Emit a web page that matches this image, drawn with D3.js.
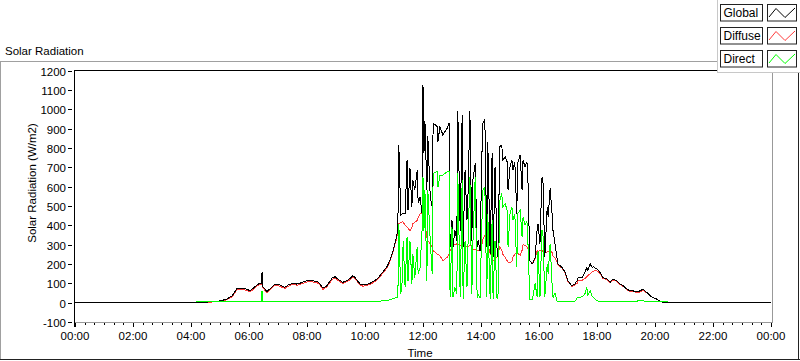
<!DOCTYPE html>
<html><head><meta charset="utf-8">
<script src="https://cdn.jsdelivr.net/npm/d3@7"></script>
<style>
body{margin:0;background:#fff;}
svg{display:block;font-family:"Liberation Sans",Arial,sans-serif;}
</style>
</head><body>
<svg id="c" width="800" height="361"></svg>
<script>
// ---- data (time in minutes since 00:00, radiation in W/m2; null = no reading) ----
const timeMin = [0,240,250,283,300,314,325,331,335,346,356,362,372,379,385,387,389,397,403,414,424,434,441,451,459,466,476,486,492,501,507,513,521,532,538,544,554,565,575,579,590,596,610,625,631,646,652,658,666,668,
670,674,677,679,683,687,689,693,697,699,703,708,710,714,718,720,722,724,728,730,735,739,741,749,751,755,761,770,774,776,780,782,786,790,792,797,801,803,807,811,813,817,821,823,828,832,834,838,842,844,848,852,854,859,863,865,869,873,875,879,883,885,890,894,896,900,904,906,910,914,916,921,925,927,931,935,937,941,946,948,952,956,958,962,966,968,972,977,979,983,987,989,993,997,999,
1008,1014,1020,1028,1034,1039,1041,1049,1055,1059,1061,1066,1070,1072,1080,1086,1092,1101,1107,1113,1121,1128,1134,1142,1148,1154,1163,1169,1175,1183,1190,1196,1204,1210,1217,1227,1228,1440];

const globalRad = [0,0,1,4,9,18,35,58,73,73,70,61,82,96,99,157,82,58,70,96,91,79,91,101,96,101,110,117,113,110,96,75,87,127,134,122,105,117,139,131,96,91,99,122,140,188,222,269,347,400,
815,451,460,460,460,737,477,696,494,633,581,685,514,546,462,1127,774,937,581,859,546,494,928,911,832,911,867,902,928,287,425,287,373,321,989,373,971,287,685,425,546,989,321,633,720,287,321,269,772,928,945,287,832,252,772,234,702,287,234,806,815,737,754,728,581,702,737,685,728,460,720,763,581,737,702,728,650,217,200,208,234,373,408,304,642,650,234,494,442,590,460,373,304,234,200,
182,157,113,87,96,115,130,130,157,182,165,200,182,186,174,157,130,122,105,122,113,96,87,70,61,61,56,61,70,53,35,27,18,9,1,0,0,0];

const diffuseRad = [null,null,1,3,7,14,30,52,67,67,64,55,76,90,93,94,76,52,64,90,85,73,85,95,90,95,104,110,107,104,90,69,81,120,127,115,99,111,132,125,90,85,93,116,134,181,215,262,338,378,
408,415,417,417,400,390,385,373,390,408,415,425,440,460,460,442,430,408,338,320,304,285,269,252,248,243,217,234,250,269,285,295,300,304,300,295,300,304,295,287,290,295,290,278,275,269,269,269,300,330,347,340,300,252,240,217,225,234,250,287,270,250,235,217,210,205,215,234,250,260,255,245,270,300,295,290,280,215,205,210,230,270,265,270,270,265,260,262,265,270,260,240,230,215,195,
178,153,110,84,90,100,113,115,125,135,140,150,160,163,165,152,127,118,102,118,110,93,84,67,58,58,52,55,64,50,33,26,17,9,1,0,null,null];

const directRad = [null,null,4,4,4,4,4,4,4,4,4,4,4,4,4,62,4,4,4,4,4,4,4,4,4,4,4,5,4,4,4,4,4,4,5,4,4,4,4,4,4,4,4,5,8,12,15,20,27,30,
408,44,113,321,79,338,113,321,96,252,130,287,148,182,373,650,373,581,113,581,321,148,668,677,598,659,659,677,677,27,390,27,79,44,668,27,633,18,321,79,287,650,44,287,650,27,44,27,425,581,598,27,460,18,425,18,321,27,18,529,564,494,512,477,287,460,494,425,460,182,460,477,338,442,400,420,321,18,18,40,100,30,269,27,373,373,27,200,150,304,100,27,50,9,5,
4,4,4,4,5,25,27,30,45,79,40,60,30,30,10,5,4,4,4,4,4,4,4,4,4,4,8,12,10,4,4,4,4,4,4,4,null,null];

const yTickValues = [-100,0,100,200,300,400,500,600,700,800,900,1000,1100,1200];
const xTickHours = [0,2,4,6,8,10,12,14,16,18,20,22,24];
const seriesNames = ["Global","Diffuse","Direct"];
const seriesColors = ["#000000","#ff3a3a","#00ff00"];

// ---- drawing ----
const svg = d3.select("#c");
const L = 75, R = 771, T = 70.5, B = 322;
const x = d3.scaleLinear().domain([0,1440]).range([L,R]);
const y = d3.scaleLinear().domain([-100,1200]).range([B,T]);

// outer frame
svg.append("line").attr("x1",0).attr("x2",717).attr("y1",61.5).attr("y2",61.5).attr("stroke","#a0a0a0");
svg.append("line").attr("x1",0.5).attr("x2",0.5).attr("y1",61).attr("y2",360).attr("stroke","#a0a0a0");
svg.append("line").attr("x1",0).attr("x2",800).attr("y1",359.5).attr("y2",359.5).attr("stroke","#222");
svg.append("line").attr("x1",798.5).attr("x2",798.5).attr("y1",72).attr("y2",360).attr("stroke","#222");

// title
svg.append("text").attr("x",5).attr("y",55).attr("font-size",11.5).attr("fill","#000").text("Solar Radiation");

// plot frame
svg.append("line").attr("x1",772.5).attr("x2",772.5).attr("y1",71).attr("y2",322.5).attr("stroke","#999");
svg.append("line").attr("x1",74).attr("x2",773).attr("y1",322.5).attr("y2",322.5).attr("stroke","#999");
svg.append("line").attr("x1",74).attr("x2",772).attr("y1",70.5).attr("y2",70.5).attr("stroke","#000");
svg.append("line").attr("x1",74.5).attr("x2",74.5).attr("y1",70).attr("y2",327).attr("stroke","#000");

// y ticks
const yt = svg.append("g");
yTickValues.forEach(v=>{
  const yy = Math.round(y(v))+0.5;
  yt.append("line").attr("x1",68).attr("x2",72).attr("y1",yy).attr("y2",yy).attr("stroke","#000");
  yt.append("text").attr("x",66).attr("y",yy).attr("dy","0.36em").attr("text-anchor","end")
    .attr("font-size",11.5).attr("fill","#000").text(v);
});
// x ticks
const xt = svg.append("g");
d3.range(0,1441,20).forEach(m=>{
  const xx = Math.round(x(m))+0.5;
  const major = m % 120 === 0;
  xt.append("line").attr("x1",xx).attr("x2",xx).attr("y1",323).attr("y2",major?327:325).attr("stroke","#000");
});
xTickHours.forEach(h=>{
  const lab = (h===24?"00":String(h).padStart(2,"0"))+":00";
  xt.append("text").attr("x",x(h*60)).attr("y",340).attr("text-anchor","middle")
    .attr("font-size",11.5).attr("fill","#000").text(lab);
});
svg.append("text").attr("x",420).attr("y",357).attr("text-anchor","middle").attr("font-size",11.5).text("Time");
svg.append("text").attr("transform","translate(32,183) rotate(-90)").attr("text-anchor","middle")
  .attr("dy","0.35em").attr("font-size",11.5).text("Solar Radiation (W/m2)");

// series: diffuse under global, direct on top
svg.append("clipPath").attr("id","pc").append("rect").attr("x",L).attr("y",T+0.5).attr("width",R-L+1).attr("height",B-T);
const seriesVals = [globalRad, diffuseRad, directRad];
const line = d3.line().defined(d=>d[1]!==null).x(d=>x(d[0])).y(d=>y(d[1]));
const g = svg.append("g").attr("clip-path","url(#pc)");
[1,0,2].forEach(i=>{
  const pts = timeMin.map((t,k)=>[t, seriesVals[i][k]]);
  g.append("path").attr("d",line(pts)).attr("fill","none").attr("stroke",seriesColors[i])
    .attr("stroke-width",1).attr("shape-rendering","crispEdges");
});

// legend
const lg = svg.append("g");
lg.append("rect").attr("x",717.5).attr("y",-1).attr("width",84).attr("height",73.5).attr("fill","#fff").attr("stroke","#c8c8c8");
const tops = [4,27,49.5];
seriesNames.forEach((n,i)=>{
  const t0 = Math.round(tops[i])+0.5;
  lg.append("rect").attr("x",720.5).attr("y",t0).attr("width",42).attr("height",16.5).attr("fill","#fff").attr("stroke","#222");
  lg.append("text").attr("x",723.5).attr("y",t0+12.5).attr("font-size",12).attr("fill","#000").text(n);
  lg.append("rect").attr("x",767.5).attr("y",t0).attr("width",29).attr("height",16.5).attr("fill","#fff").attr("stroke","#222");
  lg.append("polyline").attr("points",[[769,t0+12.5],[776,t0+4],[785,t0+13],[795,t0+3.5]].map(p=>p.join(",")).join(" "))
    .attr("fill","none").attr("stroke",seriesColors[i]).attr("stroke-width",1);
});
</script>
</body></html>
